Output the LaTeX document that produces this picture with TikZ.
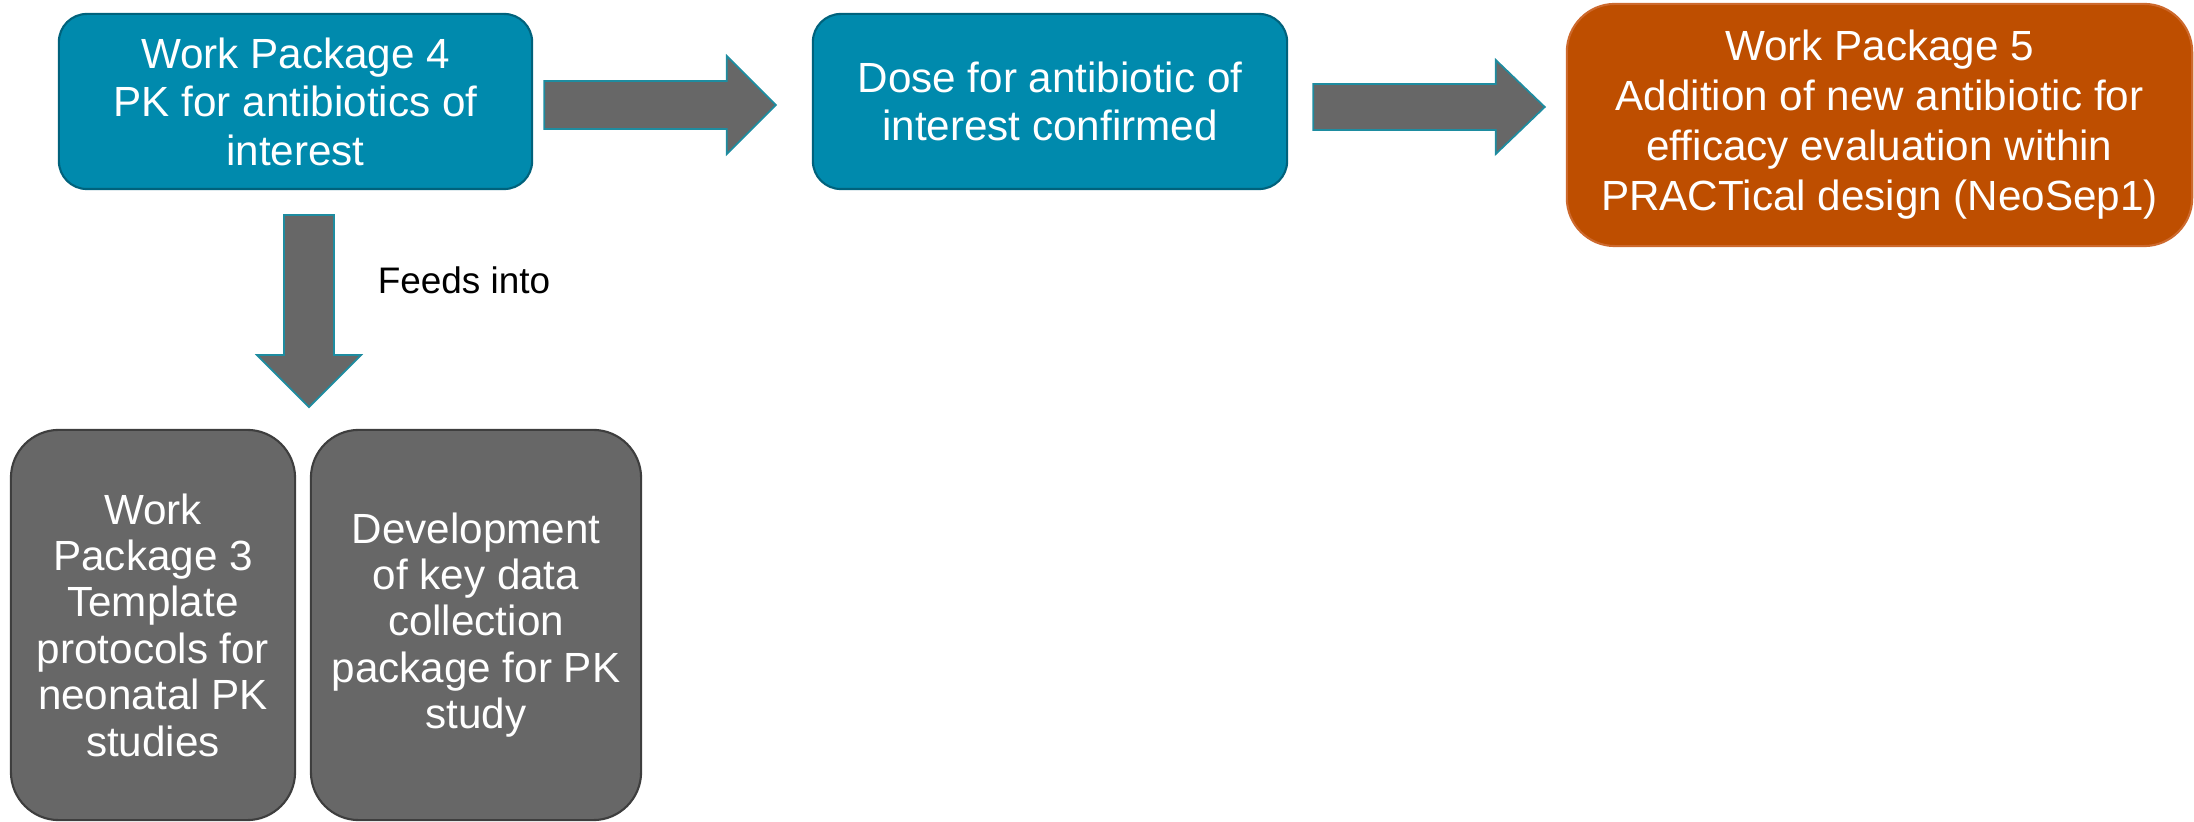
\documentclass[tikz,border=0pt]{standalone}
\usepackage{fontspec}
\setmainfont{Liberation Sans}
\usetikzlibrary{calc}

\definecolor{wpteal}{RGB}{0,138,173}
\definecolor{wptealdark}{RGB}{0,98,124}
\definecolor{wporange}{RGB}{190,78,0}
\definecolor{wporangeedge}{RGB}{205,105,45}
\definecolor{wpgray}{RGB}{103,103,103}
\definecolor{wpgrayedge}{RGB}{62,62,62}
\definecolor{arrowedge}{RGB}{30,140,160}

\tikzset{
  box/.style={rectangle, inner sep=0pt, align=center, text=white,
    font=\fontsize{12}{13.8}\selectfont, line width=0.6pt},
  tealbox/.style={box, fill=wpteal, draw=wptealdark, rounded corners=0.28cm},
  orangebox/.style={box, fill=wporange, draw=wporangeedge, rounded corners=0.48cm,
    font=\fontsize{12}{14.2}\selectfont},
  graybox/.style={box, fill=wpgray, draw=wpgrayedge, rounded corners=0.48cm,
    font=\fontsize{12}{13.2}\selectfont},
  blockarrowstyle/.style={fill=wpgray, draw=arrowedge, line width=0.5pt},
  label/.style={font=\fontsize{10.5}{12}\selectfont, text=black, inner sep=0pt}
}

% Block arrow from tail #1 to tip #2: half shaft #3, half head #4, head length #5
\newcommand{\drawblockarrow}[5]{%
  \coordinate (ba-base) at ($(#2)!#5!(#1)$);
  \filldraw[blockarrowstyle]
    ($(#1)!#3!90:(#2)$) -- ($(ba-base)!#3!90:(#2)$) -- ($(ba-base)!#4!90:(#2)$)
    -- (#2)
    -- ($(ba-base)!#4!-90:(#2)$) -- ($(ba-base)!#3!-90:(#2)$) -- ($(#1)!#3!-90:(#2)$)
    -- cycle;
}

\begin{document}
\begin{tikzpicture}[x=0.01cm, y=-0.01cm]
  \useasboundingbox (0,0) rectangle (2194,822);

  % Boxes
  \node[tealbox, minimum width=4.73cm, minimum height=1.75cm] (wp4) at (295.5,101.5)
    {Work Package 4\\PK for antibiotics of\\interest};
  \node[tealbox, minimum width=4.74cm, minimum height=1.75cm] (dose) at (1050,101.5)
    {Dose for antibiotic of\\interest confirmed};
  \node[orangebox, minimum width=6.25cm, minimum height=2.42cm] (wp5) at (1879.5,125)
    {Work Package 5\\Addition of new antibiotic for\\efficacy evaluation within\\PRACTical design (NeoSep1)};
  \node[graybox, minimum width=2.84cm, minimum height=3.90cm] (wp3) at (153,625)
    {Work\\Package 3\\Template\\protocols for\\neonatal PK\\studies};
  \node[graybox, minimum width=3.30cm, minimum height=3.90cm] (dev) at (476,625)
    {Development\\of key data\\collection\\package for PK\\study};

  % Arrow end points
  \coordinate (a1tail) at ($(wp4.east)+(11,3.5)$);
  \coordinate (a1tip)  at ($(dose.west)+(-36,3.5)$);
  \coordinate (a2tail) at ($(dose.east)+(25,5.5)$);
  \coordinate (a2tip)  at ($(wp5.west)+(-21,-18)$);
  \coordinate (a3tail) at ($(wp4.south)+(13.5,25)$);
  \coordinate (a3tip)  at ($(wp4.south)+(13.5,217)$);

  % Block arrows
  \drawblockarrow{a1tail}{a1tip}{0.24cm}{0.49cm}{0.49cm}
  \drawblockarrow{a2tail}{a2tip}{0.23cm}{0.47cm}{0.49cm}
  \drawblockarrow{a3tail}{a3tip}{0.25cm}{0.52cm}{0.52cm}

  \node[label] (feeds) at (464,280) {Feeds into};
\end{tikzpicture}
\end{document}
